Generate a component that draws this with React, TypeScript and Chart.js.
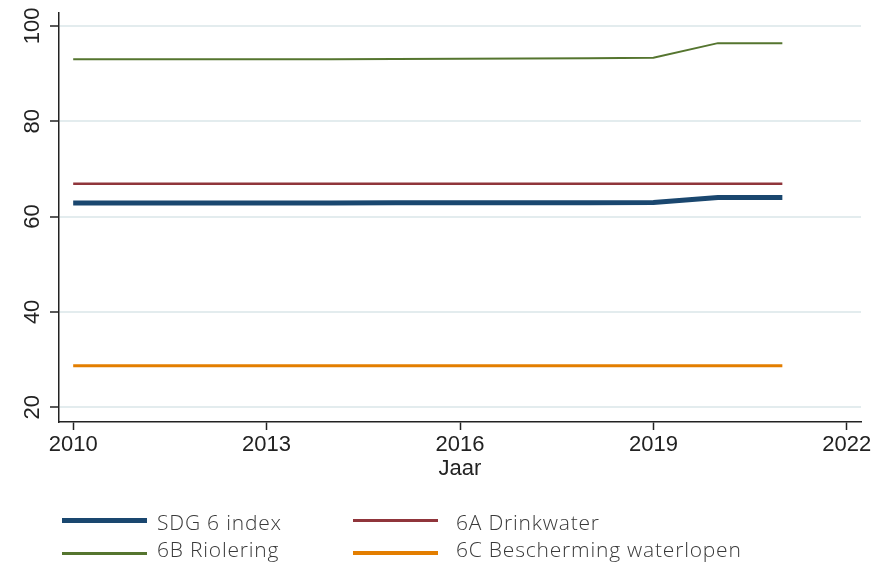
import React, { useEffect, useRef } from "react";
import { Chart, registerables } from "chart.js";

Chart.register(...registerables);

const years = [2010, 2011, 2012, 2013, 2014, 2015, 2016, 2017, 2018, 2019, 2020, 2021];
const sdg6Index = [62.85, 62.85, 62.85, 62.85, 62.85, 62.87, 62.88, 62.9, 62.92, 62.95, 64.0, 64.0];
const drinkwater = [66.9, 66.9, 66.9, 66.9, 66.9, 66.9, 66.9, 66.9, 66.9, 66.9, 66.9, 66.9];
const riolering = [93.0, 93.0, 93.0, 93.0, 93.0, 93.03, 93.08, 93.13, 93.22, 93.32, 96.38, 96.38];
const waterlopen = [28.7, 28.7, 28.7, 28.7, 28.7, 28.7, 28.7, 28.7, 28.7, 28.7, 28.7, 28.7];

const xTicks = [2010, 2013, 2016, 2019, 2022];
const yTicks = [20, 40, 60, 80, 100];

const seriesNames = ["SDG 6 index", "6A Drinkwater", "6B Riolering", "6C Bescherming waterlopen"];
const seriesColors = ["#1a476f", "#90353b", "#55752f", "#e37e00"];
const seriesWidths = [5, 2.5, 2, 3];
const legendWidths = [5, 3, 3, 4];

const tickFont = { family: "'Liberation Sans', Arial, sans-serif", size: 22 };

export default function App() {
  const canvasRef = useRef<HTMLCanvasElement | null>(null);

  useEffect(() => {
    const canvas = canvasRef.current;
    if (!canvas) return;
    const seriesData = [sdg6Index, drinkwater, riolering, waterlopen];
    const chart = new Chart(canvas, {
      type: "line",
      data: {
        datasets: seriesData.map((vals, i) => ({
          label: seriesNames[i],
          data: years.map((y, j) => ({ x: y, y: vals[j] })),
          borderColor: seriesColors[i],
          backgroundColor: seriesColors[i],
          borderWidth: seriesWidths[i],
          pointRadius: 0,
          tension: 0,
          fill: false,
          borderCapStyle: "butt" as const,
        })),
      },
      options: {
        responsive: false,
        animation: false,
        devicePixelRatio: 1,
        layout: { padding: { top: 13, left: 0, right: 27, bottom: 85 } },
        plugins: { legend: { display: false }, tooltip: { enabled: false } },
        scales: {
          x: {
            type: "linear",
            min: 2009.78,
            max: 2022.22,
            afterBuildTicks: (scale: any) => {
              scale.ticks = xTicks.map((v) => ({ value: v }));
            },
            afterFit: (scale: any) => {
              scale.height = 60;
              scale.paddingLeft = 0;
              scale.paddingRight = 0;
            },
            grid: {
              drawOnChartArea: false,
              drawTicks: true,
              tickLength: 8,
              tickColor: "#222",
              tickWidth: 1.5,
            },
            border: { display: true, color: "#222", width: 1.5 },
            ticks: {
              color: "#222",
              font: tickFont,
              padding: 2,
              maxRotation: 0,
              minRotation: 0,
              autoSkip: false,
              callback: (v: any) => String(v),
            },
            title: {
              display: true,
              text: "Jaar",
              color: "#222",
              font: tickFont,
              padding: 0,
            },
          },
          y: {
            type: "linear",
            min: 16.9,
            max: 102.7,
            afterBuildTicks: (scale: any) => {
              scale.ticks = yTicks.map((v) => ({ value: v }));
            },
            afterFit: (scale: any) => {
              scale.width = 59;
              scale.paddingTop = 0;
              scale.paddingBottom = 0;
            },
            grid: {
              color: "#e3ecee",
              lineWidth: 2,
              drawTicks: true,
              tickLength: 9,
              tickColor: "#222",
              tickWidth: 1.5,
            },
            border: { display: true, color: "#222", width: 1.5 },
            ticks: {
              color: "#222",
              font: tickFont,
              padding: -1,
              minRotation: 90,
              maxRotation: 90,
              crossAlign: "center",
              autoSkip: false,
              callback: (v: any) => String(v),
            },
          },
        },
      },
    });
    return () => chart.destroy();
  }, []);

  const legendPos = [
    { left: 62, lineY: 520, textTop: 512, textLeft: 157 },
    { left: 353, lineY: 520, textTop: 512, textLeft: 456 },
    { left: 62, lineY: 553, textTop: 539, textLeft: 157 },
    { left: 353, lineY: 553, textTop: 539, textLeft: 456 },
  ];

  return (
    <div style={{ position: "absolute", left: 0, top: 0, width: 888, height: 567, background: "#fff" }}>
      <canvas ref={canvasRef} width={888} height={567} style={{ width: 888, height: 567, display: "block" }} />
      {legendPos.map((p, i) => (
        <React.Fragment key={i}>
          <div
            style={{
              position: "absolute",
              left: p.left,
              top: p.lineY - legendWidths[i] / 2,
              width: 85,
              height: legendWidths[i],
              background: seriesColors[i],
            }}
          />
          <div
            style={{
              position: "absolute",
              left: p.textLeft,
              top: p.textTop,
              fontFamily: "'Open Sans', sans-serif",
              fontWeight: 300,
              fontSize: 21,
              lineHeight: "21px",
              letterSpacing: "0.8px",
              color: "#3a3a3a",
              whiteSpace: "nowrap",
            }}
          >
            {seriesNames[i]}
          </div>
        </React.Fragment>
      ))}
    </div>
  );
}
